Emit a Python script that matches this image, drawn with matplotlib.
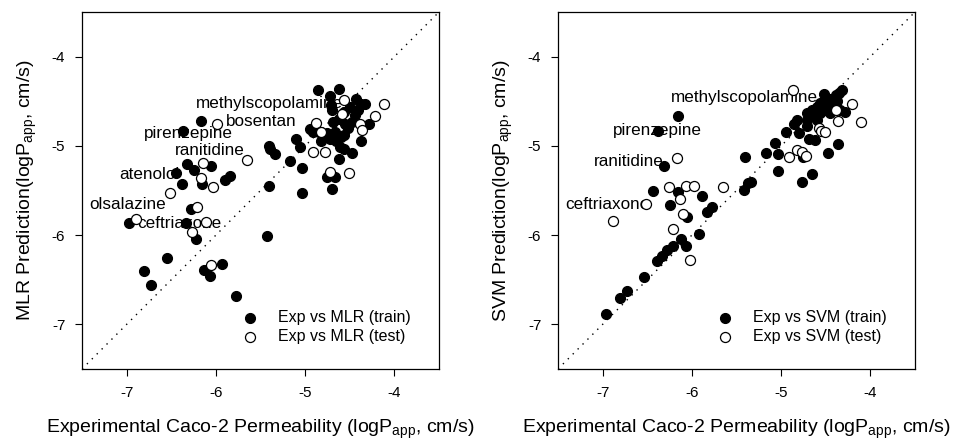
import numpy as np
import matplotlib
matplotlib.use("Agg")
import matplotlib.pyplot as plt

plt.rcParams['font.family'] = ['Liberation Sans', 'DejaVu Sans']
plt.rcParams['mathtext.fontset'] = 'custom'
plt.rcParams['mathtext.rm'] = 'Liberation Sans'
plt.rcParams['mathtext.it'] = 'Liberation Sans:italic'

# MLR model: experimental vs predicted (train / test)
mlr_train_x = [-4.86, -4.62, -4.72, -4.70, -4.43, -4.33, -4.69, -4.95, -5.10, -5.06,
               -5.17, -5.04, -5.04, -4.70, -4.76, -4.67, -4.62, -4.57, -4.48, -4.37,
               -4.28, -4.82, -4.72, -4.65, -4.57, -4.52, -4.48, -4.44, -4.41, -4.50,
               -4.56, -4.76, -4.61, -4.91, -4.705, -4.37, -4.84, -4.78, -4.66, -4.60,
               -4.55, -4.62,
               -6.17, -6.37, -5.41, -5.39, -5.34, -6.32, -6.25, -6.06, -6.45, -6.38,
               -6.16, -5.90, -5.84, -5.41, -6.28, -6.97, -6.34, -6.22, -5.43, -6.55,
               -6.81, -6.73, -6.13, -6.07, -5.93, -5.78]
mlr_train_y = [-4.37, -4.36, -4.44, -4.60, -4.47, -4.53, -4.73, -4.81, -4.92, -5.01,
               -5.17, -5.25, -5.53, -5.48, -5.35, -5.35, -5.15, -5.03, -5.08, -4.95,
               -4.76, -4.95, -4.92, -4.94, -4.88, -4.80, -4.73, -4.65, -4.60, -4.56,
               -4.62, -4.86, -5.01, -4.84, -4.54, -4.53, -4.85, -4.89, -4.84, -4.90,
               -4.75, -4.70,
               -4.72, -4.83, -5.00, -5.04, -5.09, -5.20, -5.27, -5.23, -5.30, -5.43,
               -5.43, -5.38, -5.34, -5.45, -5.71, -5.86, -5.86, -6.04, -6.01, -6.26,
               -6.40, -6.56, -6.39, -6.46, -6.32, -6.68]
mlr_test_x = [-4.56, -4.12, -4.22, -4.39, -4.36, -4.59, -4.88, -4.82, -4.91, -4.78,
              -4.72, -4.51, -5.99, -5.65, -6.14, -6.17, -6.03, -6.51, -6.21, -6.89,
              -6.11, -6.27, -6.06]
mlr_test_y = [-4.49, -4.53, -4.67, -4.75, -4.82, -4.64, -4.74, -4.85, -5.07, -5.07,
              -5.29, -5.30, -4.76, -5.16, -5.19, -5.36, -5.46, -5.53, -5.68, -5.82,
              -5.85, -5.96, -6.33]

# SVM model: experimental vs predicted (train / test)
svm_train_x = [-6.16, -6.38, -6.31, -6.44, -6.16, -6.25, -5.89, -5.77, -5.83, -6.05,
               -6.12, -6.07, -5.92, -6.21, -6.28, -6.34, -6.39, -6.54, -6.73, -6.81,
               -6.96, -5.40, -5.42, -5.37, -5.34, -5.17, -5.07, -5.04, -5.04, -4.94,
               -4.86, -4.82, -4.80, -4.77, -4.75, -4.65, -4.69, -4.62, -4.52, -4.47,
               -4.36, -4.28, -4.32,
               -4.71, -4.65, -4.60, -4.56, -4.50, -4.45, -4.39, -4.355, -4.71, -4.64,
               -4.56, -4.52, -4.47, -4.41, -4.71, -4.60, -4.45, -4.37, -4.34]
svm_train_y = [-4.67, -4.83, -5.22, -5.51, -5.52, -5.66, -5.56, -5.68, -5.74, -5.80,
               -6.04, -6.12, -5.99, -6.12, -6.17, -6.23, -6.29, -6.47, -6.63, -6.71,
               -6.88, -5.13, -5.49, -5.42, -5.40, -5.08, -4.97, -5.09, -5.28, -4.84,
               -4.75, -4.71, -4.86, -5.40, -5.12, -5.31, -4.92, -4.93, -4.42, -5.08,
               -4.98, -4.62, -4.37,
               -4.635, -4.60, -4.56, -4.52, -4.50, -4.47, -4.43, -4.41, -4.71, -4.67,
               -4.635, -4.60, -4.56, -4.56, -4.78, -4.71, -4.635, -4.50, -4.60]
svm_test_x = [-4.87, -4.21, -4.39, -4.36, -4.11, -4.58, -4.55, -4.51, -4.91, -4.82,
              -4.77, -4.72, -6.17, -6.26, -6.07, -5.98, -5.65, -6.13, -6.51, -6.10,
              -6.21, -6.02, -6.88]
svm_test_y = [-4.37, -4.53, -4.60, -4.72, -4.73, -4.80, -4.83, -4.85, -5.12, -5.05,
              -5.07, -5.11, -5.14, -5.46, -5.45, -5.45, -5.46, -5.59, -5.65, -5.76,
              -5.93, -6.28, -5.84]

# compound labels (name, text x, text y)
mlr_labels = [("methylscopolamine", -6.22, -4.53), ("bosentan", -5.89, -4.73),
              ("pirenzepine", -6.81, -4.86), ("ranitidine", -6.46, -5.05),
              ("atenolol", -7.08, -5.32), ("olsalazine", -7.42, -5.66),
              ("ceftriaxone", -6.88, -5.87)]
svm_labels = [("methylscopolamine", -6.24, -4.46), ("pirenzepine", -6.89, -4.83),
              ("ranitidine", -7.10, -5.18), ("ceftriaxone", -7.42, -5.66)]

ticks = [-7, -6, -5, -4]
xlab = r'Experimental Caco-2 Permeability (logP$_{\mathrm{app}}$, cm/s)'

fig = plt.figure(figsize=(9.57, 4.41), dpi=100)
ax1 = fig.add_axes([82 / 957, 72 / 441, 357 / 957, 357 / 441])
ax2 = fig.add_axes([558 / 957, 72 / 441, 357 / 957, 357 / 441])

panels = [(ax1, mlr_train_x, mlr_train_y, mlr_test_x, mlr_test_y, "MLR", mlr_labels),
          (ax2, svm_train_x, svm_train_y, svm_test_x, svm_test_y, "SVM", svm_labels)]

for ax, tx, ty, sx, sy, name, labels in panels:
    ax.plot([-7.5, -3.5], [-7.5, -3.5], color='black', linestyle=(0, (1, 4)), lw=1, zorder=1)
    ax.scatter(tx, ty, s=52, c='black', edgecolors='black', linewidths=0.8, zorder=3,
               label="Exp vs %s (train)" % name)
    ax.scatter(sx, sy, s=52, facecolors='white', edgecolors='black', linewidths=0.9, zorder=3,
               label="Exp vs %s (test)" % name)
    for txt, lx, ly in labels:
        ax.text(lx, ly, txt, fontsize=12.3, ha='left', va='center', zorder=2)
    ax.set_xlim(-7.5, -3.5)
    ax.set_ylim(-7.5, -3.5)
    ax.set_xticks(ticks)
    ax.set_yticks(ticks)
    ax.set_xticklabels([str(t) for t in ticks])
    ax.set_yticklabels([str(t) for t in ticks])
    ax.tick_params(labelsize=11, length=5, width=0.8, pad=7, direction='out')
    for sp in ax.spines.values():
        sp.set_linewidth(0.9)
    ax.set_xlabel(xlab, fontsize=14, labelpad=13)
    ax.set_ylabel("%s Prediction(logP$_{\\mathrm{app}}$, cm/s)" % name, fontsize=14, labelpad=9)
    ax.legend(loc='lower right', frameon=False, fontsize=11.5, handletextpad=0.7,
              bbox_to_anchor=(0.96, 0.03), borderaxespad=0.5, labelspacing=0.25,
              markerscale=1.0)

fig.savefig("out.png", dpi=100)
